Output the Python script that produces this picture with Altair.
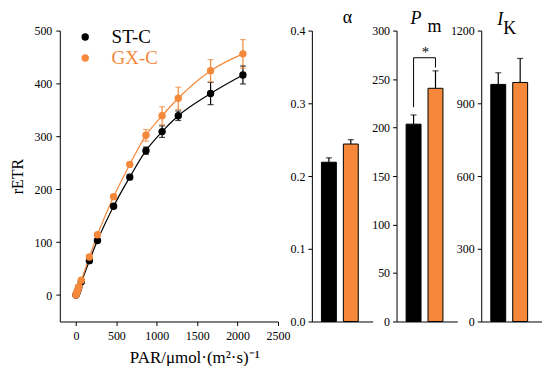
import altair as alt
import pandas as pd

# ---------------- data ----------------
PAR = [0, 6, 16, 26, 36, 66, 166, 266, 466, 666, 866, 1066, 1266, 1666, 2066]
ST_C = [0, 2, 6, 10, 15, 25, 65, 103, 168, 223, 273, 309, 339, 381, 416]
ST_C_ERR = [0.5, 0.5, 1, 1, 1, 2, 3, 3, 4, 5, 7, 11, 9, 21, 17]
GX_C = [0, 3, 7, 11, 16, 28, 72, 114, 186, 247, 302, 339, 372, 424, 456]
GX_C_ERR = [0.5, 0.5, 1, 1, 1, 2, 3, 3, 4, 4, 11, 17, 21, 21, 27]

GROUPS = ["ST-C", "GX-C"]
ALPHA = [0.219, 0.244]
ALPHA_ERR = [0.006, 0.006]
PM = [203.5, 240.5]
PM_ERR = [9.5, 18.0]
IK = [978, 986]
IK_ERR = [48, 99]
BRACKET_X = ["ST-C", "ST-C", "GX-C", "GX-C"]
BRACKET_Y = [221, 272, 272, 262]

BLACK = "#000000"
ORANGE = "#F5883A"
ORANGE_BAR = "#FF8A12"
FONT = "Liberation Serif"

# ---------------- main curve chart ----------------
rows = []
for g, vals, errs in [("ST-C", ST_C, ST_C_ERR), ("GX-C", GX_C, GX_C_ERR)]:
    for i, (p, v, e) in enumerate(zip(PAR, vals, errs)):
        rows.append(dict(group=g, par=p, retr=v, lo=v - e, hi=v + e, idx=i))
df = pd.DataFrame(rows)

color_scale = alt.Scale(domain=GROUPS, range=[BLACK, ORANGE])

x_main = alt.X(
    "par:Q",
    scale=alt.Scale(domain=[-200, 2500], nice=False, zero=False),
    axis=alt.Axis(
        values=list(range(0, 2501, 250)),
        labelExpr="datum.value % 500 === 0 ? datum.label : ''",
        tickSize={"condition": {"test": "datum.value % 500 === 0", "value": 4}, "value": 2.5},
        format="d",
        labelOverlap=False,
        labelFlush=False,
        labelPadding=5,
        title="PAR/μmol·(m²·s)⁻¹",
        titleFontSize=17,
        titlePadding=8,
        titleX=135,
    ),
)
y_main = alt.Y(
    "retr:Q",
    scale=alt.Scale(domain=[-50, 500], nice=False, zero=False),
    axis=alt.Axis(
        values=list(range(0, 501, 50)),
        labelExpr="datum.value % 100 === 0 ? datum.label : ''",
        tickSize={"condition": {"test": "datum.value % 100 === 0", "value": 4}, "value": 2.5},
        format="d",
        labelOverlap=False,
        labelFlush=False,
        labelPadding=4,
        title="rETR",
        titleFontSize=16,
        titlePadding=8,
    ),
)

base = alt.Chart(df)
lines = base.mark_line(interpolate="monotone", strokeWidth=1.2).encode(
    x=x_main, y=y_main, color=alt.Color("group:N", scale=color_scale, legend=None),
    order="idx:Q", detail="group:N",
)
err_rule = base.mark_rule(strokeWidth=1.2).encode(
    x="par:Q", y="lo:Q", y2="hi:Q",
    color=alt.Color("group:N", scale=color_scale, legend=None),
)
err_cap = base.mark_tick(orient="horizontal", size=6, thickness=1.2).encode(
    x="par:Q", y="hi:Q",
    color=alt.Color("group:N", scale=color_scale, legend=None),
)
err_cap_lo = base.mark_tick(orient="horizontal", size=6, thickness=1.2).encode(
    x="par:Q", y="lo:Q",
    color=alt.Color("group:N", scale=color_scale, legend=None),
)
points = base.mark_circle(size=55, opacity=1).encode(
    x="par:Q", y="retr:Q",
    color=alt.Color(
        "group:N",
        scale=color_scale,
        legend=alt.Legend(
            title=None, orient="none", legendX=16, legendY=-3,
            symbolType="circle", symbolSize=55, symbolStrokeWidth=0,
            labelFont=FONT, labelFontSize=19, labelOffset=17, rowPadding=1, padding=0,
            labelColor=alt.ExprRef("datum.label == 'GX-C' ? '%s' : '%s'" % (ORANGE, BLACK)),
        ),
    ),
)
main = alt.layer(lines, err_rule, err_cap, err_cap_lo, points).resolve_legend(
    color="independent"
).properties(width=219, height=292)


# ---------------- bar panels ----------------
def bar_panel(values, errs, domain, step, label_step, fmt, titles):
    d = pd.DataFrame({"group": GROUPS, "v": values, "hi": [v + e for v, e in zip(values, errs)]})
    n = int(round(domain[1] / step))
    vals = [round(i * step, 6) for i in range(n + 1)]
    k = int(round(label_step / step))
    xenc = alt.X(
        "group:N", sort=GROUPS,
        scale=alt.Scale(domain=GROUPS, paddingInner=0.32, paddingOuter=0.546, align=0.4),
        axis=alt.Axis(labels=False, ticks=False, title=None, domain=True),
    )
    yenc = alt.Y(
        "v:Q",
        scale=alt.Scale(domain=domain, nice=False, zero=True),
        axis=alt.Axis(
            values=vals,
            labelExpr="round(datum.value / %s) %% %d === 0 ? datum.label : ''" % (step, k),
            tickSize={"condition": {"test": "round(datum.value / %s) %% %d === 0" % (step, k), "value": 4}, "value": 2.5},
            format=fmt, labelOverlap=False, labelFlush=False, title=None,
        ),
    )
    b = alt.Chart(d)
    bars = b.mark_bar(stroke=BLACK, strokeWidth=1).encode(
        x=xenc, y=yenc,
        color=alt.Color("group:N", scale=alt.Scale(domain=GROUPS, range=[BLACK, ORANGE_BAR]), legend=None),
    )
    rule = b.mark_rule(color=BLACK, strokeWidth=1.2).encode(x="group:N", y="v:Q", y2="hi:Q")
    cap = b.mark_tick(orient="horizontal", size=6, thickness=1.2, color=BLACK).encode(x="group:N", y="hi:Q")
    layers = [bars, rule, cap]
    for txt, px, py, size, style in titles:
        layers.append(
            alt.Chart(pd.DataFrame({"t": [txt]})).mark_text(
                font=FONT, fontSize=size, fontStyle=style, align="left", baseline="alphabetic", color=BLACK
            ).encode(text="t:N", x=alt.value(px), y=alt.value(py))
        )
    return layers, d


alpha_layers, _ = bar_panel(ALPHA, ALPHA_ERR, [0, 0.4], 0.05, 0.1, ".1f",
                            [("α", 31, -8, 18, "normal")])
alpha_chart = alt.layer(*alpha_layers).properties(width=61, height=292)

pm_layers, _ = bar_panel(PM, PM_ERR, [0, 300], 25, 50, "d",
                         [("P", 14, -7, 18, "italic"), ("m", 31, 1, 18, "normal")])
bracket_df = pd.DataFrame({"group": BRACKET_X, "v": BRACKET_Y, "o": [0, 1, 2, 3]})
bracket = alt.Chart(bracket_df).mark_line(color=BLACK, strokeWidth=1).encode(
    x="group:N", y="v:Q", order="o:Q"
)
star = alt.Chart(pd.DataFrame({"t": ["*"]})).mark_text(
    font=FONT, fontSize=15, color=BLACK, align="center", baseline="middle"
).encode(text="t:N", x=alt.value(29), y=alt.value(22))
pm_chart = alt.layer(*pm_layers, bracket, star).properties(width=61, height=292)

ik_layers, _ = bar_panel(IK, IK_ERR, [0, 1200], 150, 300, "d",
                         [("I", 16, -6, 18, "italic"), ("K", 22, 3, 18, "normal")])
ik_chart = alt.layer(*ik_layers).properties(width=61, height=292)

bars_row = alt.hconcat(alpha_chart, pm_chart, ik_chart, spacing=24, bounds="flush")

chart = alt.hconcat(main, bars_row, spacing=34, bounds="flush").properties(
    padding={"left": 2, "top": 0, "right": 0, "bottom": 0}
).configure_view(stroke=None).configure_axis(
    labelFont=FONT, titleFont=FONT, labelFontSize=12, labelColor=BLACK, titleColor=BLACK,
    domainColor=BLACK, tickColor=BLACK, domainWidth=1, tickWidth=1, grid=False,
    labelPadding=3, titleFontWeight="normal",
)

chart.save("out.html", embed_options={"renderer": "svg", "actions": False})
